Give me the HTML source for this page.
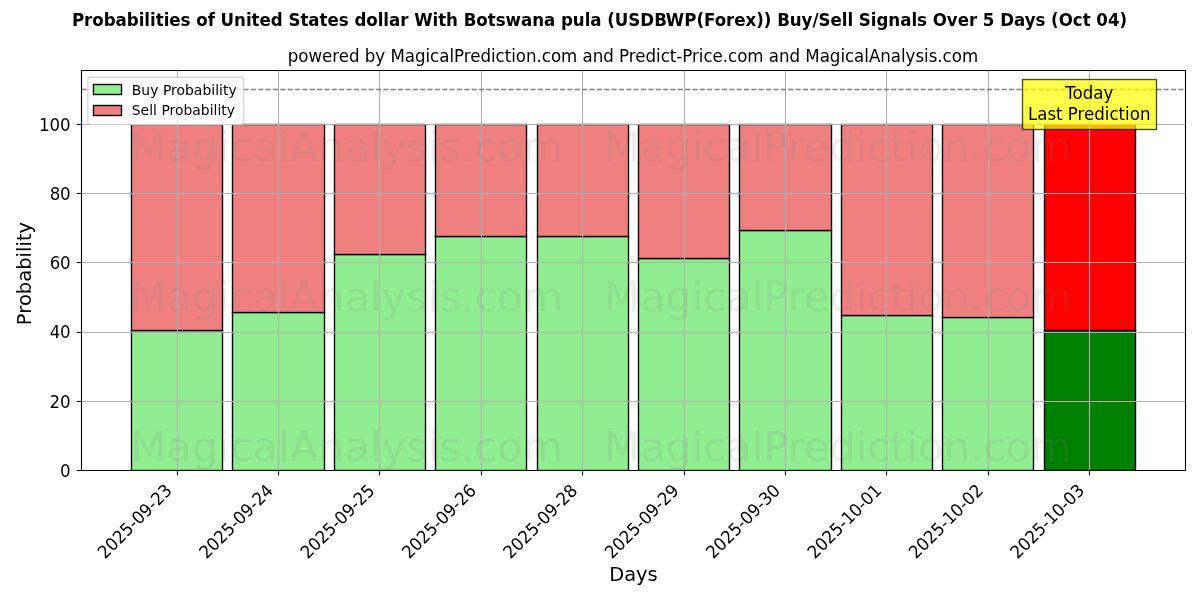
<!DOCTYPE html>
<html lang="en"><head><meta charset="utf-8"><title>USDBWP Buy/Sell Probabilities</title>
<style>
html,body{margin:0;padding:0;background:#fff;}
body{width:1200px;height:600px;overflow:hidden;}
svg{display:block;}
</style></head><body>
<svg width="1200" height="600" viewBox="0 0 1200 600" font-family="'DejaVu Sans', 'Liberation Sans', sans-serif">
<rect x="0" y="0" width="1200" height="600" fill="#ffffff"/>
<svg x="81" y="70" width="1104" height="400" viewBox="81 70 1104 400">
<g stroke="#000000" stroke-width="1.389" stroke-linejoin="miter">
<rect x="131.5" y="330.5" width="91.0" height="140.0" fill="#90ee90"/>
<rect x="232.5" y="312.5" width="92.0" height="158.0" fill="#90ee90"/>
<rect x="334.5" y="254.5" width="91.0" height="216.0" fill="#90ee90"/>
<rect x="435.5" y="236.5" width="91.0" height="234.0" fill="#90ee90"/>
<rect x="537.5" y="236.5" width="91.0" height="234.0" fill="#90ee90"/>
<rect x="638.5" y="258.5" width="91.0" height="212.0" fill="#90ee90"/>
<rect x="739.5" y="230.5" width="92.0" height="240.0" fill="#90ee90"/>
<rect x="841.5" y="315.5" width="91.0" height="155.0" fill="#90ee90"/>
<rect x="942.5" y="317.5" width="91.0" height="153.0" fill="#90ee90"/>
<rect x="131.5" y="124.5" width="91.0" height="206.0" fill="#f08080"/>
<rect x="232.5" y="124.5" width="92.0" height="188.0" fill="#f08080"/>
<rect x="334.5" y="124.5" width="91.0" height="130.0" fill="#f08080"/>
<rect x="435.5" y="124.5" width="91.0" height="112.0" fill="#f08080"/>
<rect x="537.5" y="124.5" width="91.0" height="112.0" fill="#f08080"/>
<rect x="638.5" y="124.5" width="91.0" height="134.0" fill="#f08080"/>
<rect x="739.5" y="124.5" width="92.0" height="106.0" fill="#f08080"/>
<rect x="841.5" y="124.5" width="91.0" height="191.0" fill="#f08080"/>
<rect x="942.5" y="124.5" width="91.0" height="193.0" fill="#f08080"/>
<rect x="1044.5" y="330.5" width="91.0" height="140.0" fill="#008000"/>
<rect x="1044.5" y="124.5" width="91.0" height="206.0" fill="#ff0000"/>
</g>
</svg>
<g stroke="#b0b0b0" stroke-width="1.111" fill="none">
<line x1="177.5" y1="469.935" x2="177.5" y2="70.333"/>
<line x1="278.5" y1="469.935" x2="278.5" y2="70.333"/>
<line x1="379.5" y1="469.935" x2="379.5" y2="70.333"/>
<line x1="481.5" y1="469.935" x2="481.5" y2="70.333"/>
<line x1="582.5" y1="469.935" x2="582.5" y2="70.333"/>
<line x1="684.5" y1="469.935" x2="684.5" y2="70.333"/>
<line x1="785.5" y1="469.935" x2="785.5" y2="70.333"/>
<line x1="886.5" y1="469.935" x2="886.5" y2="70.333"/>
<line x1="988.5" y1="469.935" x2="988.5" y2="70.333"/>
<line x1="1089.5" y1="469.935" x2="1089.5" y2="70.333"/>
<line x1="80.903" y1="470.5" x2="1185.000" y2="470.5"/>
<line x1="80.903" y1="401.5" x2="1185.000" y2="401.5"/>
<line x1="80.903" y1="332.5" x2="1185.000" y2="332.5"/>
<line x1="80.903" y1="262.5" x2="1185.000" y2="262.5"/>
<line x1="80.903" y1="193.5" x2="1185.000" y2="193.5"/>
<line x1="80.903" y1="124.5" x2="1185.000" y2="124.5"/>
</g>
<g stroke="#000000" stroke-width="1.111" fill="none">
<line x1="177.5" y1="470.5" x2="177.5" y2="475.361"/>
<line x1="278.5" y1="470.5" x2="278.5" y2="475.361"/>
<line x1="379.5" y1="470.5" x2="379.5" y2="475.361"/>
<line x1="481.5" y1="470.5" x2="481.5" y2="475.361"/>
<line x1="582.5" y1="470.5" x2="582.5" y2="475.361"/>
<line x1="684.5" y1="470.5" x2="684.5" y2="475.361"/>
<line x1="785.5" y1="470.5" x2="785.5" y2="475.361"/>
<line x1="886.5" y1="470.5" x2="886.5" y2="475.361"/>
<line x1="988.5" y1="470.5" x2="988.5" y2="475.361"/>
<line x1="1089.5" y1="470.5" x2="1089.5" y2="475.361"/>
<line x1="81.5" y1="470.5" x2="76.639" y2="470.5"/>
<line x1="81.5" y1="401.5" x2="76.639" y2="401.5"/>
<line x1="81.5" y1="332.5" x2="76.639" y2="332.5"/>
<line x1="81.5" y1="262.5" x2="76.639" y2="262.5"/>
<line x1="81.5" y1="193.5" x2="76.639" y2="193.5"/>
<line x1="81.5" y1="124.5" x2="76.639" y2="124.5"/>
</g>
<line x1="81.5" y1="89.5" x2="1185.5" y2="89.5" stroke="#808080" stroke-width="1.389" stroke-dasharray="5.139 2.222" fill="none"/>
<g stroke="#000000" stroke-width="1.111" stroke-linecap="square" fill="none">
<line x1="81.5" y1="470.5" x2="81.5" y2="70.5"/><line x1="1185.5" y1="470.5" x2="1185.5" y2="70.5"/><line x1="81.5" y1="470.5" x2="1185.5" y2="470.5"/><line x1="81.5" y1="70.5" x2="1185.5" y2="70.5"/>
</g>
<g fill="#000000">
<text font-size="16.667" textLength="96.25" lengthAdjust="spacing" transform="translate(105.022 559.602) rotate(-45) scale(1 1.05)">2025-09-23</text>
<text font-size="16.667" textLength="96.12" lengthAdjust="spacing" transform="translate(206.408 559.602) rotate(-45) scale(1 1.05)">2025-09-24</text>
<text font-size="16.667" textLength="96.12" lengthAdjust="spacing" transform="translate(307.795 559.602) rotate(-45) scale(1 1.05)">2025-09-25</text>
<text font-size="16.667" textLength="96.12" lengthAdjust="spacing" transform="translate(409.181 559.602) rotate(-45) scale(1 1.05)">2025-09-26</text>
<text font-size="16.667" textLength="96.12" lengthAdjust="spacing" transform="translate(510.567 559.602) rotate(-45) scale(1 1.05)">2025-09-28</text>
<text font-size="16.667" textLength="96.12" lengthAdjust="spacing" transform="translate(611.954 559.602) rotate(-45) scale(1 1.05)">2025-09-29</text>
<text font-size="16.667" textLength="96.12" lengthAdjust="spacing" transform="translate(713.340 559.602) rotate(-45) scale(1 1.05)">2025-09-30</text>
<text font-size="16.667" textLength="96.25" lengthAdjust="spacing" transform="translate(814.726 559.602) rotate(-45) scale(1 1.05)">2025-10-01</text>
<text font-size="16.667" textLength="96.25" lengthAdjust="spacing" transform="translate(916.113 559.602) rotate(-45) scale(1 1.05)">2025-10-02</text>
<text font-size="16.667" textLength="96.25" lengthAdjust="spacing" transform="translate(1017.499 559.602) rotate(-45) scale(1 1.05)">2025-10-03</text>
<text font-size="19.444" text-anchor="middle" textLength="48.38" lengthAdjust="spacing" transform="translate(633.451 580.883)">Days</text>
<text font-size="16.667" text-anchor="end" textLength="10.50" lengthAdjust="spacing" transform="translate(70.681 476.767) scale(1 1.1)">0</text>
<text font-size="16.667" text-anchor="end" textLength="21.12" lengthAdjust="spacing" transform="translate(70.681 407.572) scale(1 1.1)">20</text>
<text font-size="16.667" text-anchor="end" textLength="21.00" lengthAdjust="spacing" transform="translate(70.681 338.377) scale(1 1.1)">40</text>
<text font-size="16.667" text-anchor="end" textLength="21.00" lengthAdjust="spacing" transform="translate(70.681 269.182) scale(1 1.1)">60</text>
<text font-size="16.667" text-anchor="end" textLength="21.00" lengthAdjust="spacing" transform="translate(70.681 199.987) scale(1 1.1)">80</text>
<text font-size="16.667" text-anchor="end" textLength="31.62" lengthAdjust="spacing" transform="translate(70.681 130.792) scale(1 1.1)">100</text>
<text font-size="19.444" text-anchor="middle" textLength="103.25" lengthAdjust="spacing" transform="translate(30.769 273.534) rotate(-90)">Probability</text>
<text font-size="16.667" text-anchor="middle" textLength="690.38" lengthAdjust="spacing" transform="translate(632.951 61.500) scale(1 1.08)">powered by MagicalPrediction.com and Predict-Price.com and MagicalAnalysis.com</text>
<text font-size="16.667" font-weight="700" text-anchor="middle" textLength="1055.12" lengthAdjust="spacing" transform="translate(599.500 25.664) scale(1 1.1)">Probabilities of United States dollar With Botswana pula (USDBWP(Forex)) Buy/Sell Signals Over 5 Days (Oct 04)</text>
</g>
<rect x="1022.5" y="79.5" width="134.0" height="50.0" fill="#ffff00" fill-opacity="0.7" stroke="#000000" stroke-opacity="0.7" stroke-width="1.389"/>
<text font-size="16.667" textLength="48.00" lengthAdjust="spacing" transform="translate(1065.248 98.860) scale(1 1.05)">Today</text>
<text font-size="16.667" textLength="122.50" lengthAdjust="spacing" transform="translate(1027.949 119.753) scale(1 1.05)">Last Prediction</text>
<rect x="87.847" y="77.278" width="155.775" height="47.356" rx="2.778" ry="2.778" fill="#ffffff" fill-opacity="0.8" stroke="#cccccc" stroke-opacity="0.8" stroke-width="1.389"/>
<rect x="93.5" y="84.5" width="28.0" height="10.0" fill="#90ee90" stroke="#000000" stroke-width="1.389"/>
<rect x="93.5" y="105.5" width="28.0" height="10.0" fill="#f08080" stroke="#000000" stroke-width="1.389"/>
<text font-size="13.889" textLength="104.88" lengthAdjust="spacing" transform="translate(131.792 94.687)">Buy Probability</text>
<text font-size="13.889" textLength="103.25" lengthAdjust="spacing" transform="translate(131.792 115.073)">Sell Probability</text>
<text font-size="41.667" text-anchor="middle" fill="#808080" fill-opacity="0.14" textLength="432.75" lengthAdjust="spacing" transform="translate(346.800 161.497)">MagicalAnalysis.com</text>
<text font-size="41.667" text-anchor="middle" fill="#808080" fill-opacity="0.14" textLength="467.88" lengthAdjust="spacing" transform="translate(837.960 161.497)">MagicalPrediction.com</text>
<text font-size="41.667" text-anchor="middle" fill="#808080" fill-opacity="0.14" textLength="432.75" lengthAdjust="spacing" transform="translate(346.800 311.497)">MagicalAnalysis.com</text>
<text font-size="41.667" text-anchor="middle" fill="#808080" fill-opacity="0.14" textLength="467.88" lengthAdjust="spacing" transform="translate(837.960 311.497)">MagicalPrediction.com</text>
<text font-size="41.667" text-anchor="middle" fill="#808080" fill-opacity="0.14" textLength="432.75" lengthAdjust="spacing" transform="translate(346.800 461.497)">MagicalAnalysis.com</text>
<text font-size="41.667" text-anchor="middle" fill="#808080" fill-opacity="0.14" textLength="467.88" lengthAdjust="spacing" transform="translate(837.960 461.497)">MagicalPrediction.com</text>
</svg>
</body></html>
